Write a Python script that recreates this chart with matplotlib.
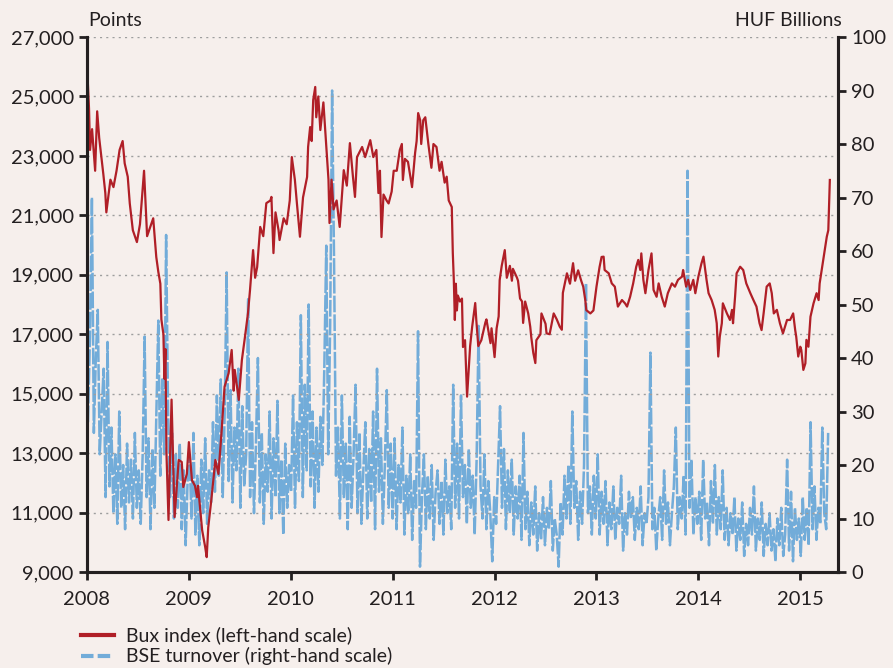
import numpy as np
import matplotlib
matplotlib.use("Agg")
import matplotlib.pyplot as plt
from matplotlib.lines import Line2D

plt.rcParams['font.family'] = ['Lato', 'DejaVu Sans']
plt.rcParams['lines.scale_dashes'] = False

# Bux index, points (time as decimal years)
bux_t = [
    2008.00, 2008.02, 2008.03, 2008.05, 2008.08, 2008.10, 2008.12, 2008.16, 2008.18, 2008.19,
    2008.23, 2008.26, 2008.29, 2008.32, 2008.35, 2008.37, 2008.40, 2008.42, 2008.45, 2008.49,
    2008.52, 2008.54, 2008.56, 2008.57, 2008.59, 2008.62, 2008.65, 2008.68, 2008.70, 2008.72,
    2008.73, 2008.75, 2008.76, 2008.77, 2008.78, 2008.80, 2008.83, 2008.86, 2008.90, 2008.93,
    2008.945, 2008.98, 2009.00, 2009.03, 2009.06, 2009.08, 2009.09, 2009.13, 2009.16, 2009.175,
    2009.19, 2009.22, 2009.26, 2009.29, 2009.32, 2009.35, 2009.39, 2009.42, 2009.44, 2009.45,
    2009.49, 2009.52, 2009.55, 2009.58, 2009.60, 2009.63, 2009.65, 2009.67, 2009.70, 2009.73,
    2009.76, 2009.80, 2009.81, 2009.83, 2009.85, 2009.88, 2009.89, 2009.93, 2009.96, 2009.99,
    2010.01, 2010.04, 2010.06, 2010.09, 2010.12, 2010.16, 2010.17, 2010.19, 2010.205, 2010.22,
    2010.24, 2010.25, 2010.27, 2010.29, 2010.32, 2010.34, 2010.37, 2010.38, 2010.40, 2010.42,
    2010.45, 2010.48, 2010.52, 2010.55, 2010.58, 2010.61, 2010.63, 2010.65, 2010.70, 2010.73,
    2010.78, 2010.81, 2010.84, 2010.86, 2010.875, 2010.89, 2010.91, 2010.94, 2010.96, 2010.99,
    2011.01, 2011.04, 2011.07, 2011.09, 2011.10, 2011.12, 2011.15, 2011.19, 2011.22, 2011.235,
    2011.25, 2011.27, 2011.28, 2011.30, 2011.32, 2011.35, 2011.38, 2011.40, 2011.43, 2011.46,
    2011.48, 2011.51, 2011.53, 2011.55, 2011.58, 2011.59, 2011.60, 2011.61, 2011.62, 2011.63,
    2011.64, 2011.66, 2011.68, 2011.69, 2011.71, 2011.73, 2011.74, 2011.76, 2011.78, 2011.81,
    2011.82, 2011.84, 2011.87, 2011.91, 2011.92, 2011.96, 2011.97, 2012.00, 2012.02, 2012.04,
    2012.05, 2012.07, 2012.10, 2012.12, 2012.15, 2012.17, 2012.18, 2012.22, 2012.23, 2012.25,
    2012.27, 2012.28, 2012.30, 2012.33, 2012.35, 2012.36, 2012.38, 2012.40, 2012.41, 2012.45,
    2012.46, 2012.50, 2012.51, 2012.54, 2012.58, 2012.61, 2012.64, 2012.66, 2012.67, 2012.71,
    2012.74, 2012.76, 2012.77, 2012.79, 2012.82, 2012.85, 2012.87, 2012.89, 2012.90, 2012.94,
    2012.97, 2013.00, 2013.03, 2013.05, 2013.07, 2013.08, 2013.12, 2013.15, 2013.18, 2013.21,
    2013.25, 2013.28, 2013.30, 2013.33, 2013.36, 2013.39, 2013.41, 2013.43, 2013.44, 2013.46,
    2013.48, 2013.51, 2013.54, 2013.56, 2013.59, 2013.61, 2013.64, 2013.67, 2013.70, 2013.74,
    2013.77, 2013.80, 2013.84, 2013.85, 2013.88, 2013.90, 2013.92, 2013.95, 2013.97, 2014.00,
    2014.03, 2014.05, 2014.08, 2014.10, 2014.13, 2014.16, 2014.18, 2014.195, 2014.21, 2014.23,
    2014.24, 2014.28, 2014.31, 2014.33, 2014.34, 2014.36, 2014.375, 2014.41, 2014.44, 2014.47,
    2014.51, 2014.54, 2014.57, 2014.60, 2014.62, 2014.64, 2014.67, 2014.70, 2014.72, 2014.74,
    2014.77, 2014.80, 2014.83, 2014.87, 2014.90, 2014.93, 2014.95, 2014.96, 2014.98, 2015.00,
    2015.01, 2015.03, 2015.05, 2015.06, 2015.08, 2015.10, 2015.13, 2015.16, 2015.18, 2015.19,
    2015.23, 2015.26, 2015.275, 2015.29,
]
bux_v = [
    26100, 24600, 23200, 23900, 22500, 24500, 23600, 22400, 21750, 21100,
    22200, 21950, 22500, 23200, 23500, 22750, 22300, 21400, 20500, 20100,
    20700, 21600, 22500, 21750, 20300, 20600, 20900, 19600, 19100, 18700,
    17500, 17000, 15500, 16500, 13000, 10750, 14800, 10850, 12770, 12700,
    11860, 12300, 13370, 12090, 11900, 11520, 11900, 10410, 9840, 9500,
    10500, 11420, 12770, 12300, 13680, 15230, 15690, 16470, 15100, 15800,
    14790, 16130, 16900, 17710, 18490, 19830, 18900, 19260, 20610, 20300,
    21410, 21500, 21620, 19730, 21100, 20500, 20170, 20900, 20700, 21500,
    22960, 22200, 21410, 20280, 21600, 22290, 23300, 23970, 23500, 24880,
    25320, 24300, 25000, 23870, 24800, 23770, 22200, 20740, 22200, 21200,
    21500, 20610, 22520, 22000, 23430, 22300, 21620, 22960, 23300, 22960,
    23530, 22960, 23200, 21750, 22500, 20270, 21700, 21500, 21400, 21800,
    22500, 22500, 23200, 23400, 22190, 22900, 22800, 21950, 23100, 23500,
    24440, 24200, 23400, 24200, 24300, 23400, 22600, 23400, 23300, 22500,
    22800, 22100, 22300, 21500, 21280, 19730, 18820, 17480, 18700, 17800,
    18300, 18100, 18200, 16570, 16800, 14900, 15460, 16600, 17250, 18050,
    17500, 16600, 16800, 17400, 17500, 16700, 17200, 16230, 17200, 17600,
    18820, 19300, 19830, 18900, 19300, 18800, 19200, 18900, 18800, 18200,
    18100, 17380, 18100, 17700, 17250, 16900, 16370, 16030, 16800, 17000,
    17700, 17350, 17030, 17000, 17700, 17500, 17250, 17150, 18390, 19050,
    18700, 19150, 19390, 18800, 19150, 18800, 18600, 18150, 17810, 17700,
    17800, 18600, 19260, 19600, 19610, 19160, 19050, 18710, 18600, 17930,
    18150, 18040, 17930, 18260, 18710, 19270, 19500, 19160, 19720, 18830,
    18380, 19160, 19720, 18490, 18260, 18710, 18260, 17930, 18380, 18710,
    18600, 18830, 18940, 19160, 18600, 18830, 18490, 18830, 18380, 18940,
    19380, 19610, 18830, 18380, 18150, 17820, 17370, 16250, 16920, 17370,
    18040, 17700, 17480, 17820, 17370, 18260, 19050, 19270, 19160, 18710,
    18380, 18150, 17930, 17370, 17140, 17700, 18600, 18710, 18380, 17700,
    17820, 17370, 17030, 17480, 17480, 17700, 17140, 16920, 16250, 16580,
    16470, 15800, 16020, 16810, 16580, 17590, 18040, 18380, 18150, 18710,
    19610, 20280, 20500, 22190,
]

# BSE turnover, HUF billions, weekly
turnover_2008 = [28, 44, 70, 26, 40, 49, 22, 30, 38, 14, 43, 16, 27,
                 11, 22, 9, 30, 12, 20, 8, 24, 13, 21, 10, 26, 12, 19,
                 9, 22, 44, 14, 25, 8, 23, 12, 30, 47, 18, 36, 22, 63,
                 30, 14, 26, 10, 22, 12, 24, 8, 19, 5, 17]
turnover_2009 = [22, 10, 26, 7, 18, 5, 21, 11, 25, 9, 19, 13, 28,
                 15, 33, 18, 36, 14, 30, 56, 17, 34, 13, 27, 19, 38, 12,
                 31, 16, 22, 51, 14, 28, 11, 24, 40, 13, 26, 9, 22, 15,
                 30, 10, 25, 14, 32, 11, 21, 7, 24, 12, 20]
turnover_2010 = [15, 33, 12, 28, 17, 48, 14, 35, 19, 50, 16, 30, 12,
                 27, 15, 29, 20, 38, 61, 22, 46, 90, 58, 18, 27, 10, 33,
                 14, 24, 8, 29, 12, 22, 35, 11, 26, 9, 19, 28, 10, 23,
                 13, 30, 8, 38, 15, 25, 9, 20, 34, 12, 24]
turnover_2011 = [10, 25, 8, 20, 13, 27, 7, 18, 11, 22, 6, 17, 12,
                 45, 1, 14, 22, 8, 18, 10, 20, 6, 15, 19, 9, 17, 7,
                 21, 11, 16, 8, 35, 12, 24, 10, 33, 14, 20, 9, 23, 12,
                 18, 7, 21, 46, 16, 10, 22, 8, 17, 11, 2]
turnover_2012 = [14, 9, 20, 31, 12, 23, 8, 19, 11, 21, 7, 16, 10,
                 18, 6, 26, 8, 15, 5, 13, 7, 16, 4, 11, 6, 14, 5,
                 12, 8, 17, 4, 10, 7, 1, 13, 7, 18, 10, 20, 9, 30,
                 12, 17, 6, 15, 9, 20, 54, 11, 16, 7, 18]
turnover_2013 = [10, 22, 7, 15, 9, 17, 5, 13, 8, 16, 6, 12, 9,
                 18, 4, 11, 7, 15, 10, 14, 6, 12, 8, 16, 5, 11, 9,
                 14, 41, 8, 12, 4, 10, 14, 6, 19, 9, 13, 5, 11, 16,
                 27, 8, 14, 10, 18, 7, 75, 12, 21, 7, 14]
turnover_2014 = [9, 15, 6, 21, 10, 13, 5, 17, 9, 20, 7, 14, 8,
                 19, 6, 12, 5, 11, 7, 14, 4, 10, 6, 13, 3, 9, 5,
                 12, 7, 16, 4, 10, 6, 13, 3, 9, 5, 11, 4, 8, 2,
                 10, 5, 12, 3, 7, 21, 4, 15, 2, 12, 6]
turnover_2015 = [10, 3, 14, 6, 12, 5, 28, 8, 16, 6, 12, 9, 27, 11, 8, 26]

turnover = (turnover_2008 + turnover_2009 + turnover_2010 + turnover_2011
            + turnover_2012 + turnover_2013 + turnover_2014 + turnover_2015)
turnover_t = 2008.01 + np.arange(len(turnover)) / 52.18

bg = '#f6efec'
dark = '#231f20'
red = '#b01f27'
blue = '#72acd9'

fig = plt.figure(figsize=(8.93, 6.68), dpi=100, facecolor=bg)
ax = fig.add_axes([0.0974, 0.1437, 0.841, 0.8009])
ax2 = ax.twinx()

ax2.plot(turnover_t, turnover, color=blue, lw=1.8, linestyle=(0, (12, 1.5)))
ax.plot(bux_t, bux_v, color=red, lw=1.6)

# left axis on top so the Bux line sits above the turnover
ax.set_zorder(ax2.get_zorder() + 1)
ax.patch.set_visible(False)
ax2.patch.set_facecolor(bg)

ax.set_xlim(2008, 2015.37)
ax.set_ylim(9000, 27000)
ax2.set_ylim(0, 100)
ax.set_xticks(range(2008, 2016))
ax.set_yticks(range(9000, 27001, 2000))
ax.set_yticklabels([f'{v:,}' for v in range(9000, 27001, 2000)])
ax2.set_yticks(range(0, 101, 10))

for a in (ax, ax2):
    a.spines['top'].set_visible(False)
    for s in ('left', 'right', 'bottom'):
        a.spines[s].set_linewidth(2.2)
        a.spines[s].set_color(dark)
    a.tick_params(direction='out', length=6, width=2, colors=dark,
                  labelsize=14.5, labelcolor=dark)
ax.tick_params(axis='x', pad=8)

ax.grid(axis='y', color='#9e9e9e', linestyle=(0, (1.5, 3)), lw=1)
ax.set_axisbelow(True)

fig.text(0.0985, 0.970, 'Points', ha='left', va='center', fontsize=14, color=dark)
fig.text(0.943, 0.970, 'HUF Billions', ha='right', va='center', fontsize=14, color=dark)

handles = [Line2D([], [], color=red, lw=3),
           Line2D([], [], color=blue, lw=3, linestyle=(0, (9, 3)))]
fig.legend(handles, ['Bux index (left-hand scale)', 'BSE turnover (right-hand scale)'],
           loc='upper left', bbox_to_anchor=(0.091, 0.062), frameon=False,
           fontsize=14, handlelength=1.7, handletextpad=0.6, labelspacing=0.15,
           borderpad=0, borderaxespad=0, labelcolor=dark)

fig.savefig('out.png', dpi=100, facecolor=bg)
